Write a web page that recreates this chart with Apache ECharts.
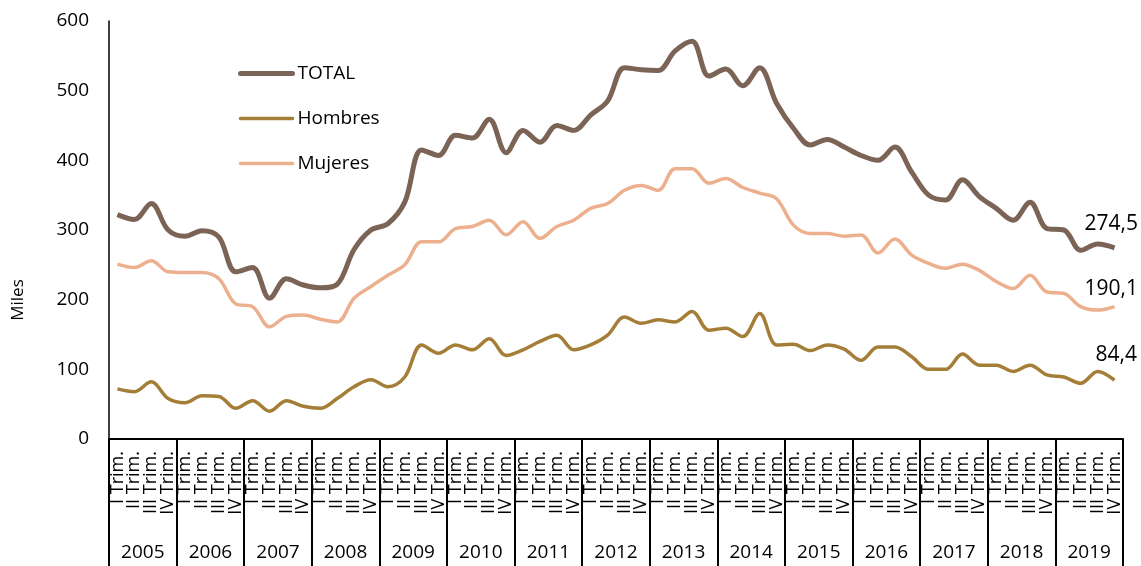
<!DOCTYPE html>
<html>
<head>
<meta charset="utf-8">
<script src="https://cdn.jsdelivr.net/npm/echarts@6/dist/echarts.min.js"></script>
<style>
  html, body { margin: 0; padding: 0; background: #fff; }
  #chart { width: 1141px; height: 566px; }
</style>
</head>
<body>
<div id="chart"></div>
<script>
const years = ["2005", "2006", "2007", "2008", "2009", "2010", "2011", "2012", "2013", "2014", "2015", "2016", "2017", "2018", "2019"];
const quarterNames = ["I Trim.", "II Trim.", "III Trim.", "IV Trim."];
const quarters = years.flatMap(() => quarterNames);

const total = [
  322, 315, 338, 300, 291, 299, 290, 240, 246, 202, 230, 221,
  217, 222, 272, 300, 309, 340, 415, 407, 436, 432, 459, 411,
  443, 426, 450, 443, 465, 485, 533, 530, 529, 557, 571, 521,
  531, 507, 533, 482, 446, 422, 430, 419, 407, 400, 419, 383,
  350, 343, 372, 348, 331, 314, 340, 302, 300, 271, 280, 274.5
];
const hombres = [
  72, 68, 82, 58, 52, 62, 61, 44, 55, 40, 55, 47,
  44, 58, 75, 85, 75, 89, 135, 123, 135, 128, 144, 120,
  128, 140, 149, 128, 135, 149, 175, 166, 171, 168, 183, 156,
  159, 147, 180, 135, 136, 127, 135, 129, 113, 132, 132, 118,
  100, 100, 122, 106, 106, 97, 106, 92, 89, 80, 97, 84.4
];
const mujeres = [
  251, 246, 256, 240, 239, 239, 230, 194, 190, 161, 176, 178,
  172, 168, 202, 219, 235, 250, 283, 283, 302, 305, 314, 293,
  312, 288, 305, 314, 331, 338, 357, 364, 357, 388, 388, 367,
  374, 361, 353, 345, 307, 295, 295, 291, 293, 267, 287, 264,
  252, 245, 251, 242, 226, 216, 235, 211, 209, 190, 185, 190.1
];

const axisFont = "Open Sans";
const colors = { total: "#7b6356", hombres: "#a47e37", mujeres: "#edb08e" };
const fmt = v => String(v).replace(".", ",");

function endLabel(dx, dy) {
  return {
    show: true,
    formatter: p => fmt(p.value),
    offset: [dx, dy],
    color: "#000",
    fontFamily: "Open Sans",
    fontSize: 21
  };
}

const chart = echarts.init(document.getElementById("chart"), null, { renderer: "canvas" });

chart.setOption({
  animation: false,
  grid: { left: 109, right: 18, top: 21, bottom: 127 },
  legend: {
    orient: "vertical",
    left: 238,
    top: 64,
    padding: 0,
    itemWidth: 52,
    itemHeight: 20,
    itemGap: 26,
    itemStyle: { color: "rgba(0,0,0,0)", borderWidth: 0, opacity: 0 },
    textStyle: { fontFamily: axisFont, fontSize: 19, color: "#000" },
    data: [
      { name: "TOTAL", lineStyle: { width: 5, cap: "round", color: colors.total } },
      { name: "Hombres", lineStyle: { width: 3.5, cap: "round", color: colors.hombres } },
      { name: "Mujeres", lineStyle: { width: 3.5, cap: "round", color: colors.mujeres } }
    ]
  },
  graphic: [
    {
      type: "text",
      x: 18,
      y: 300,
      rotation: Math.PI / 2,
      style: {
        text: "Miles",
        fontFamily: axisFont,
        fontSize: 17,
        fill: "#000",
        align: "center",
        verticalAlign: "middle"
      }
    }
  ],
  xAxis: [
    {
      type: "category",
      data: quarters,
      axisLine: { lineStyle: { color: "#000", width: 2 } },
      axisTick: { show: false },
      axisLabel: {
        interval: 0,
        rotate: 90,
        margin: 12,
        fontFamily: axisFont,
        fontSize: 18,
        color: "#000"
      }
    },
    {
      type: "category",
      data: years,
      position: "bottom",
      axisLine: { show: false },
      axisTick: { show: true, length: 127, lineStyle: { color: "#000", width: 2 } },
      axisLabel: {
        interval: 0,
        margin: 104,
        fontFamily: axisFont,
        fontSize: 19,
        color: "#000"
      }
    }
  ],
  yAxis: {
    type: "value",
    min: 0,
    max: 600,
    interval: 100,
    splitLine: { show: false },
    axisLine: { show: true, lineStyle: { color: "#000", width: 1.5 } },
    axisTick: { show: false },
    axisLabel: { margin: 20, fontFamily: axisFont, fontSize: 19, color: "#000" }
  },
  series: [
    {
      name: "TOTAL",
      type: "line",
      data: total,
      smooth: 0.35,
      symbol: "none",
      lineStyle: { color: colors.total, width: 5 },
      itemStyle: { color: colors.total },
      endLabel: endLabel(-38, -24),
      z: 3
    },
    {
      name: "Hombres",
      type: "line",
      data: hombres,
      smooth: 0.35,
      symbol: "none",
      lineStyle: { color: colors.hombres, width: 3.5 },
      itemStyle: { color: colors.hombres },
      endLabel: endLabel(-27, -25),
      z: 2
    },
    {
      name: "Mujeres",
      type: "line",
      data: mujeres,
      smooth: 0.35,
      symbol: "none",
      lineStyle: { color: colors.mujeres, width: 3.5 },
      itemStyle: { color: colors.mujeres },
      endLabel: endLabel(-38, -18),
      z: 2
    }
  ]
});
</script>
</body>
</html>
